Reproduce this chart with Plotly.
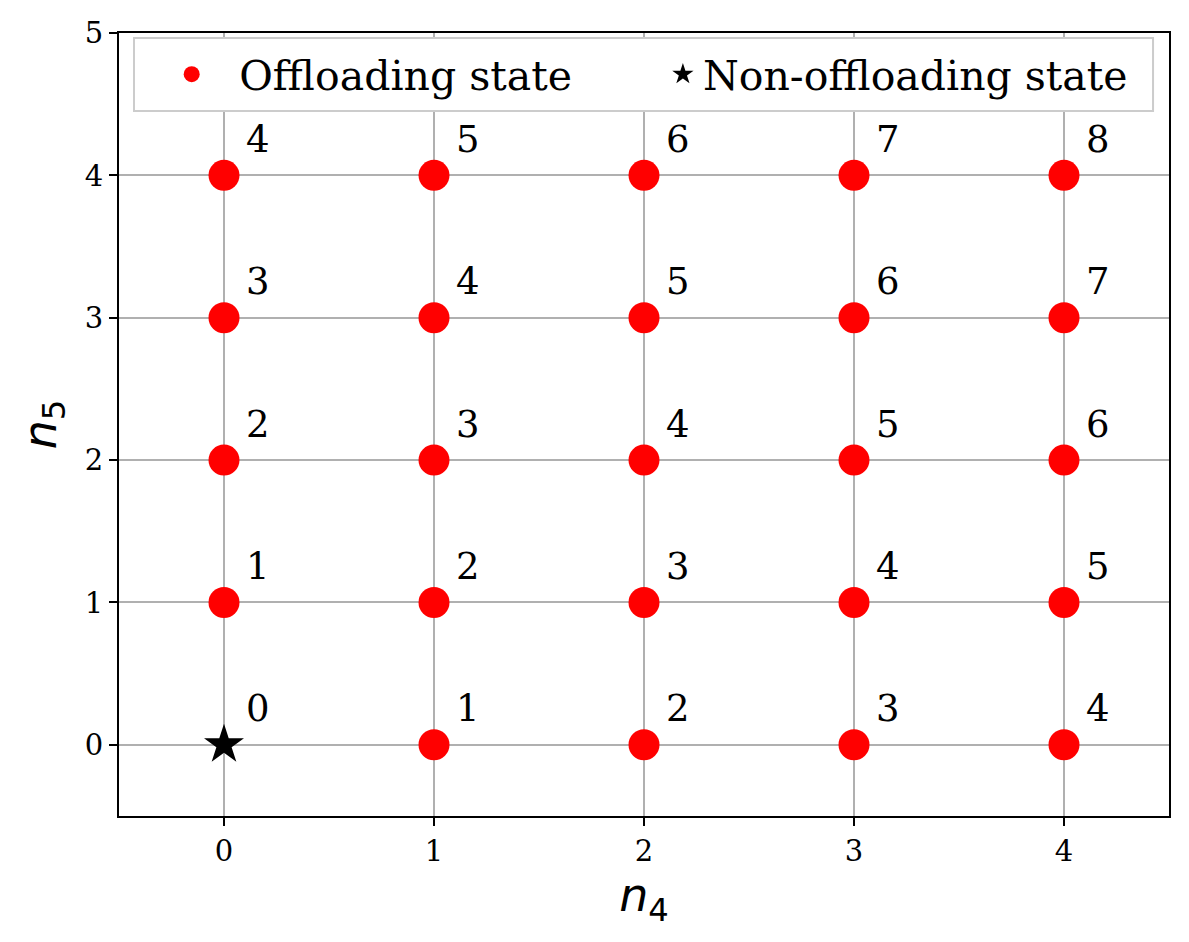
import plotly.graph_objects as go

# offloading states (n4, n5) and the label shown next to each
off_n4 = [1, 2, 3, 4,
          0, 1, 2, 3, 4,
          0, 1, 2, 3, 4,
          0, 1, 2, 3, 4,
          0, 1, 2, 3, 4]
off_n5 = [0, 0, 0, 0,
          1, 1, 1, 1, 1,
          2, 2, 2, 2, 2,
          3, 3, 3, 3, 3,
          4, 4, 4, 4, 4]
off_labels = ["1", "2", "3", "4",
              "1", "2", "3", "4", "5",
              "2", "3", "4", "5", "6",
              "3", "4", "5", "6", "7",
              "4", "5", "6", "7", "8"]

# non-offloading state
non_n4 = [0]
non_n5 = [0]
non_labels = ["0"]

serif = "DejaVu Serif"

fig = go.Figure()
fig.add_trace(go.Scatter(x=off_n4, y=off_n5, mode="markers", name="Offloading state",
                         marker=dict(color="red", size=31, line=dict(width=0)),
                         legend="legend"))
fig.add_trace(go.Scatter(x=non_n4, y=non_n5, mode="markers", name="Non-offloading state",
                         marker=dict(color="black", symbol="star", size=30, line=dict(width=0)),
                         legend="legend2"))

for x, y, t in zip(off_n4 + non_n4, off_n5 + non_n5, off_labels + non_labels):
    fig.add_annotation(x=x, y=y, text=t, showarrow=False, xshift=34, yshift=36,
                       font=dict(family=serif, size=37, color="black"))

axis_style = dict(showline=True, linecolor="black", linewidth=2, mirror=True,
                  ticks="outside", ticklen=8, tickwidth=2, tickcolor="black",
                  showgrid=True, gridcolor="#b0b0b0", gridwidth=1.6, zeroline=False,
                  automargin=False,
                  tickfont=dict(family=serif, size=29, color="black"))

fig.update_xaxes(range=[-0.5, 4.5], tickvals=[0, 1, 2, 3, 4],
                 title=dict(text="<i>n</i><sub>4</sub>", standoff=12,
                            font=dict(family="DejaVu Sans", size=46, color="black")),
                 **axis_style)
fig.update_yaxes(range=[-0.5, 5], tickvals=[0, 1, 2, 3, 4, 5],
                 title=dict(text="<i>n</i><sub>5</sub>", standoff=14,
                            font=dict(family="DejaVu Sans", size=46, color="black")),
                 **axis_style)

# legend frame drawn as a shape, the two entries placed separately inside it
fig.add_shape(type="rect", xref="paper", yref="paper",
              x0=0.0143, x1=0.9848, y0=0.9004, y1=0.9936,
              line=dict(color="#cccccc", width=2), fillcolor="white", layer="above")

leg_common = dict(orientation="h", yanchor="middle", y=0.947,
                  bgcolor="rgba(0,0,0,0)", borderwidth=0,
                  font=dict(family=serif, size=41, color="black"),
                  itemsizing="trace")

fig.update_layout(width=1189, height=942,
                  margin=dict(l=111, r=28, t=25, b=134, autoexpand=False),
                  plot_bgcolor="white", paper_bgcolor="white",
                  legend=dict(x=0.024, xanchor="left", itemwidth=85, **leg_common),
                  legend2=dict(x=0.518, xanchor="left", itemwidth=30, **leg_common),
                  showlegend=True)

fig.write_html("out.html")
